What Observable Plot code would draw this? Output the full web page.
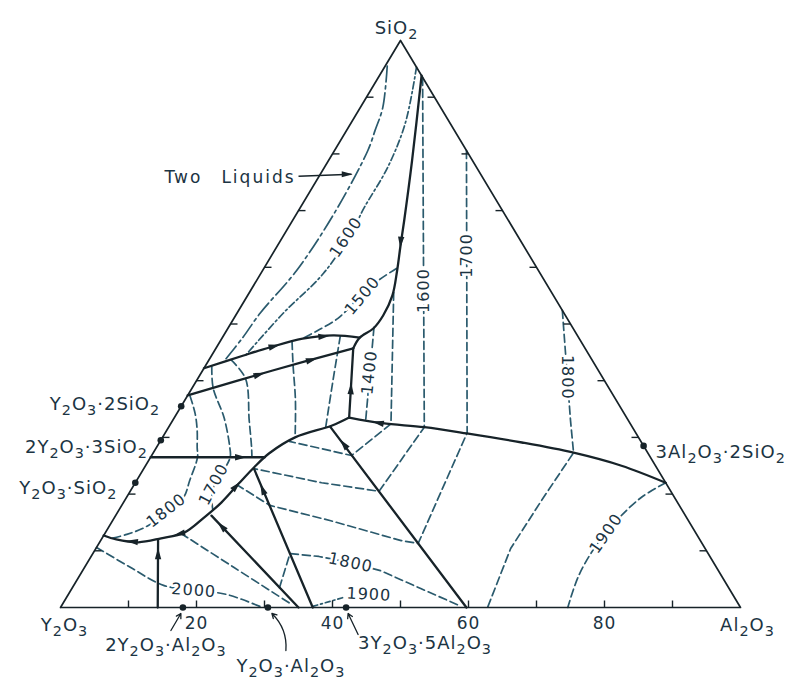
<!DOCTYPE html>
<html>
<head>
<meta charset="utf-8">
<script src="https://cdn.jsdelivr.net/npm/d3@7"></script>
<script src="https://cdn.jsdelivr.net/npm/@observablehq/plot@0.6"></script>
<style>
html,body{margin:0;padding:0;background:#fff;}
</style>
</head>
<body>
<div id="chart"></div>
<script>
// ================= DATA (wt %, each point = [Al2O3, SiO2]) =================
const cornerNames = ["Y₂O₃", "Al₂O₃", "SiO₂"];
const cornerComp = [[0, 0], [100, 0], [0, 100]];
const triangle = [[0, 0], [100, 0], [0, 100], [0, 0]];
const edgeTicks = [10, 20, 30, 40, 50, 60, 70, 80, 90];
const baseTickLabels = [20, 40, 60, 80];

const compounds = ["Y₂O₃·2SiO₂", "2Y₂O₃·3SiO₂", "Y₂O₃·SiO₂", "2Y₂O₃·Al₂O₃", "Y₂O₃·Al₂O₃", "3Y₂O₃·5Al₂O₃", "3Al₂O₃·2SiO₂"];
const compoundComp = [[0, 35.5], [0, 29.5], [0, 22], [18, 0], [30.5, 0], [42, 0], [71.5, 28.5]];

// boundary curves (solid)
const bSilica = [[6.2, 93.8], [12.3, 78.8], [16.4, 68.3], [18.1, 63.8], [19.8, 59.4], [21.3, 55.0], [21.7, 51.5], [21.4, 49.2], [20.2, 47.6], [20.2, 45.7]];
const bUpper = [[0, 42.2], [4.6, 44.4], [7.9, 45.9], [11.9, 47.4], [16.1, 48.0], [20.2, 47.6]];
const bLower = [[0, 37.4], [10.3, 41.8], [20.2, 45.7]];
const bRiser = [[20.2, 45.7], [25.7, 33.5]];
const bMullite = [[25.7, 33.5], [31.1, 32.5], [37.6, 31.8], [44.4, 30.7], [53.3, 29.1], [61.8, 27.3], [70.0, 25.0], [78.0, 22.0]];
const bYttria = [[25.7, 33.5], [23.9, 32.1], [19.5, 30.0], [17.1, 27.2], [16.1, 24.7], [15.3, 21.9], [14.4, 18.5], [13.2, 15.9], [11.6, 13.2], [8.7, 12.2], [5.7, 11.5], [2.2, 12.0], [0, 12.7]];
const bHoriz = [[0, 26.5], [16.8, 26.5]];
const bStem = [[14.3, 0], [8.35, 12.0]];
const bYAM1 = [[14.1, 16.2], [35, 0]];
const bYAM2 = [[16.2, 24.5], [37.1, 0]];
const bYAG = [[23.7, 31.9], [59.7, 0]];

// flow arrows on boundaries: [position, point it heads toward]
const flowArrows = [
  [[17.7, 64.7], [18.8, 62.1]],
  [[8.2, 46.0], [10.7, 46.9]],
  [[14.6, 47.8], [16.1, 48.0]],
  [[8.5, 41.0], [10.3, 41.8]],
  [[14.9, 43.6], [20.2, 45.7]],
  [[23.55, 38.3], [20.2, 45.7]],
  [[30.7, 32.5], [25.7, 33.5]],
  [[15.1, 21.2], [15.3, 21.9]],
  [[11.2, 13.06], [8.7, 12.2]],
  [[5.0, 11.6], [2.2, 12.0]],
  [[13.0, 26.5], [16.8, 26.5]],
  [[9.75, 9.2], [8.35, 12.0]],
  [[16.8, 14.1], [14.1, 16.2]],
  [[19.5, 20.6], [16.2, 24.5]],
  [[27.5, 28.6], [23.7, 31.9]]
];

// two-liquid boundary and isotherms (dashed)
const twoLiquid = [[0.3, 95.5], [3.3, 88.2], [4.2, 84.1], [4.9, 80.6], [5.5, 69.5], [5.0, 59.4], [3.4, 51.9], [3.0, 47.6], [2.3, 43.3]];
const twoLiquidTarget = [4.6, 76.4];
const iso1600a = [[4.7, 95.3], [8.0, 85.4], [9.3, 77.6], [9.4, 70.6], [9.7, 66.0], [9.2, 58.9], [6.8, 51.9], [5.0, 44.6]];
const iso1500a = [[19.5, 59.8], [17.65, 57.3], [16.5, 54.5], [15.3, 51.0], [13.4, 48.85], [11.8, 47.4]];
const iso1500b = [[21.2, 55.6], [32.4, 32.4], [29.4, 26.8], [19.0, 29.3]];
const iso1400 = [[21.4, 49.4], [28.4, 32.95]];
const iso1600b = [[6.5, 93.5], [37.6, 31.8], [36.6, 20.5], [27.4, 22.0], [16.2, 24.5]];
const iso1700a = [[19.4, 80.6], [44.4, 30.8], [46.95, 11.3], [44.2, 11.8], [32.1, 15.3], [21.8, 18.0], [15.2, 21.6]];
const iso1800a = [[47.6, 52.4], [58.5, 33.0], [61.8, 27.3], [61.3, 18.9], [61.0, 10.4], [62.8, 0]];
const iso1900a = [[78.0, 22.0], [75.7, 19.4], [74.1, 15.3], [73.3, 10.9], [73.4, 5.6], [74.6, 0]];
const iso1800b = [[30.45, 3.5], [29.0, 9.5], [33.5, 9.0], [38.7, 7.9], [43.8, 6.5], [51.3, 3.35], [58.6, 0.3]];
const iso1900b = [[11.2, 13.06], [22.0, 7.05], [33.8, 0.5]];
const iso1900c = [[37.0, 0.2], [40.8, 1.8]];
const iso2000 = [[0, 10.6], [6.8, 7.05], [13.2, 3.9], [18.6, 3.0], [23.3, 2.3], [29.7, 0]];
const iso1800c = [[0.4, 37.3], [2.7, 34.2], [4.5, 31.2], [6.0, 28.2], [6.9, 26.5], [7.8, 22.4], [8.4, 19.5], [7.6, 17.0], [5.3, 14.1], [3.3, 12.9], [1.5, 12.2]];
const iso1700b = [[1.0, 42.5], [3.1, 38.7], [7.3, 33.5], [10.8, 28.2], [11.7, 26.5], [11.9, 23.5], [11.8, 21.7], [12.5, 19.5], [13.8, 17.2]];
const isoLensA = [[3.2, 43.7], [7.0, 40.4], [11.25, 33.0], [14.0, 28.2], [14.9, 26.5]];
const isoLensB = [[10.6, 46.9], [12.8, 42.8], [16.3, 36.5], [19.5, 30.0]];
const isoLensC = [[17.2, 47.9], [20.25, 39.5], [23.1, 31.8]];

const isoLabels = [1600, 1500, 1600, 1700, 1800, 1400, 1800, 1700, 2000, 1800, 1900, 1900];
const isoLabelAt = [[9.35, 65.3], [16.9, 55.0], [25.5, 55.9], [28.7, 62.1], [54.2, 40.6], [24.7, 41.45], [7.0, 17.1], [11.7, 21.7], [18.1, 3.0], [38.7, 7.9], [44.2, 2.3], [73.7, 13.05]];

// ================= LAYOUT / STYLE =================
const W = 796, H = 679, mL = 60, mR = 56, mT = 40, mB = 72;
const kx = (W - mL - mR) / 100, ky = (H - mT - mB) / 100;
const tx = p => p[0] + p[1] / 2;
const ty = p => p[1];
const shift = (p, dx, dy) => ({x: tx(p) + dx / kx, y: ty(p) - dy / ky});
const angle = (p, q) => Math.atan2((tx(q) - tx(p)) * kx, (q[1] - p[1]) * ky) * 180 / Math.PI;

const INK = "#172329", DASH = "#2a5a6d", TEXT = "#1b3443";
const FONT = "DejaVu Sans, sans-serif";

const headSymbol = {
  draw(context, size) {
    const r = Math.sqrt(size / Math.PI);
    context.moveTo(0, -1.7 * r);
    context.lineTo(0.72 * r, 0.9 * r);
    context.lineTo(-0.72 * r, 0.9 * r);
    context.closePath();
  }
};

const solid = (pts, curve = "catmull-rom", w = 2.3) =>
  Plot.line(pts, {x: tx, y: ty, stroke: INK, strokeWidth: w, curve, strokeLinejoin: "round"});
const dashed = (pts, curve = "catmull-rom", dash = "8,4") =>
  Plot.line(pts, {x: tx, y: ty, stroke: DASH, strokeWidth: 1.7, strokeDasharray: dash, curve});

const tickSegs = [
  ...edgeTicks.map(s => ({x1: tx([0, s]), y1: s, x2: tx([0, s]) + 7 / kx, y2: s})),
  ...edgeTicks.map(s => ({x1: tx([100 - s, s]), y1: s, x2: tx([100 - s, s]) - 7 / kx, y2: s})),
  ...edgeTicks.map(v => ({x1: v, y1: 0, x2: v, y2: 7 / ky}))
];

const compoundLayout = [[-21, -2, "end"], [-13, 7, "end"], [-18, 5, "end"], [-17, 38, "middle"], [23, 59, "middle"], [12, 36, "start"], [12, 6, "start"]];
const compoundText = compounds.map((name, i) => ({name, anchor: compoundLayout[i][2], ...shift(compoundComp[i], compoundLayout[i][0], compoundLayout[i][1])}));

const cornerLayout = [[4, 18], [7, 18], [-4, -12]];
const cornerText = cornerNames.map((name, i) => ({name, ...shift(cornerComp[i], cornerLayout[i][0], cornerLayout[i][1])}));

const tickText = baseTickLabels.map(v => ({v, ...shift([v, 0], 0, 16)}));

const ptr = (i, tdx, tdy, hdx, hdy) => {
  const a = shift(compoundComp[i], tdx, tdy), b = shift(compoundComp[i], hdx, hdy);
  return [{x1: a.x, y1: a.y, x2: b.x, y2: b.y}];
};

const isoRot = [-56, -50, -90, -90, 90, -84, -38, -62, 4, 12, 3, -55];
const isoText = isoLabels.map((t, i) => ({t: String(t), r: isoRot[i], x: tx(isoLabelAt[i]), y: ty(isoLabelAt[i])}));

const tlTail = shift(twoLiquidTarget, -53, 2);
const tlText = shift(twoLiquidTarget, -56, 3);

const svg = Plot.plot({
  width: W, height: H,
  marginLeft: mL, marginRight: mR, marginTop: mT, marginBottom: mB,
  x: {domain: [0, 100], axis: null},
  y: {domain: [0, 100], axis: null},
  style: {background: "#fff", fontFamily: FONT, overflow: "visible"},
  marks: [
    // isotherms and the two-liquid boundary
    dashed(twoLiquid, "catmull-rom", "16,4,3,4"),
    dashed(iso1600a, "catmull-rom", "7,3,2,3"),
    dashed(iso1500a),
    dashed(iso1500b, "linear"),
    dashed(iso1400, "linear"),
    dashed(iso1600b, "linear"),
    dashed(iso1700a, "linear"),
    dashed(iso1800a, "linear"),
    dashed(iso1900a),
    dashed(iso1800b, "linear"),
    dashed(iso1900b),
    dashed(iso1900c, "linear", "5,3,2,3"),
    dashed(iso2000),
    dashed(iso1800c),
    dashed(iso1700b),
    dashed(isoLensA),
    dashed(isoLensB),
    dashed(isoLensC),
    // triangle and ticks
    Plot.line(triangle, {x: tx, y: ty, stroke: INK, strokeWidth: 1.7}),
    Plot.link(tickSegs, {x1: "x1", y1: "y1", x2: "x2", y2: "y2", stroke: INK, strokeWidth: 1.4}),
    // boundary curves
    solid(bSilica),
    solid(bUpper),
    solid(bLower),
    solid(bRiser, "linear"),
    solid(bMullite),
    solid(bYttria),
    solid(bHoriz, "linear"),
    solid(bStem, "linear"),
    solid(bYAM1, "linear"),
    solid(bYAM2, "linear"),
    solid(bYAG, "linear"),
    Plot.dot(flowArrows, {x: d => tx(d[0]), y: d => ty(d[0]), r: 4.4, symbol: headSymbol, fill: INK, stroke: "none", rotate: d => angle(d[0], d[1])}),
    // compounds
    Plot.dot(compoundComp, {x: tx, y: ty, r: 3.3, fill: INK}),
    // isotherm labels
    Plot.text(isoText, {x: "x", y: "y", text: "t", rotate: "r", fill: TEXT, fontSize: 16, stroke: "#fff", strokeWidth: 5, paintOrder: "stroke"}),
    // two liquids annotation
    Plot.link([{x1: tlTail.x, y1: tlTail.y, x2: tx(twoLiquidTarget), y2: ty(twoLiquidTarget)}], {x1: "x1", y1: "y1", x2: "x2", y2: "y2", stroke: INK, strokeWidth: 1.6}),
    Plot.dot([twoLiquidTarget], {x: tx, y: ty, r: 4.2, dx: -6, symbol: headSymbol, fill: INK, stroke: "none", rotate: 90}),
    Plot.text([{...tlText, s: "Two\u2003Liquids"}], {x: "x", y: "y", text: "s", textAnchor: "end", fill: TEXT, fontSize: 17}),
    // compound pointers
    Plot.arrow(ptr(3, -12, 23, -2, 6), {x1: "x1", y1: "y1", x2: "x2", y2: "y2", stroke: INK, strokeWidth: 1.3, headLength: 6}),
    Plot.arrow(ptr(4, 18, 43, 4, 6), {x1: "x1", y1: "y1", x2: "x2", y2: "y2", stroke: INK, strokeWidth: 1.3, headLength: 6, bend: -25}),
    Plot.arrow(ptr(5, 12, 27, 2, 6), {x1: "x1", y1: "y1", x2: "x2", y2: "y2", stroke: INK, strokeWidth: 1.3, headLength: 6}),
    // labels
    Plot.text(compoundText.filter(d => d.anchor === "end"), {x: "x", y: "y", text: "name", textAnchor: "end", fill: TEXT, fontSize: 18}),
    Plot.text(compoundText.filter(d => d.anchor === "start"), {x: "x", y: "y", text: "name", textAnchor: "start", fill: TEXT, fontSize: 18}),
    Plot.text(compoundText.filter(d => d.anchor === "middle"), {x: "x", y: "y", text: "name", fill: TEXT, fontSize: 18}),
    Plot.text(cornerText, {x: "x", y: "y", text: "name", fill: TEXT, fontSize: 18}),
    Plot.text(tickText, {x: "x", y: "y", text: d => String(d.v), fill: TEXT, fontSize: 17})
  ]
});

// letter spacing and chemical subscripts (kept as real text)
const sel = d3.select(svg);
sel.selectAll("text").attr("letter-spacing", "1px");
sel.selectAll("text").filter(function() { return /Liquids/.test(this.textContent); }).attr("letter-spacing", "2px");
sel.selectAll("text").each(function() {
  const t = this.textContent;
  if (!/[\u2080-\u2089]/.test(t)) return;
  const parts = t.match(/[\u2080-\u2089]+|[^\u2080-\u2089]+/g);
  while (this.firstChild) this.removeChild(this.firstChild);
  let down = false;
  for (const part of parts) {
    const sub = /[\u2080-\u2089]/.test(part);
    const ts = document.createElementNS("http://www.w3.org/2000/svg", "tspan");
    ts.textContent = sub ? part.replace(/[\u2080-\u2089]/g, c => String.fromCharCode(c.charCodeAt(0) - 0x2080 + 48)) : part;
    if (sub) { ts.setAttribute("font-size", "80%"); if (!down) ts.setAttribute("dy", "5"); down = true; }
    else if (down) { ts.setAttribute("dy", "-5"); down = false; }
    this.appendChild(ts);
  }
});
document.getElementById("chart").appendChild(svg);
</script>
</body>
</html>
